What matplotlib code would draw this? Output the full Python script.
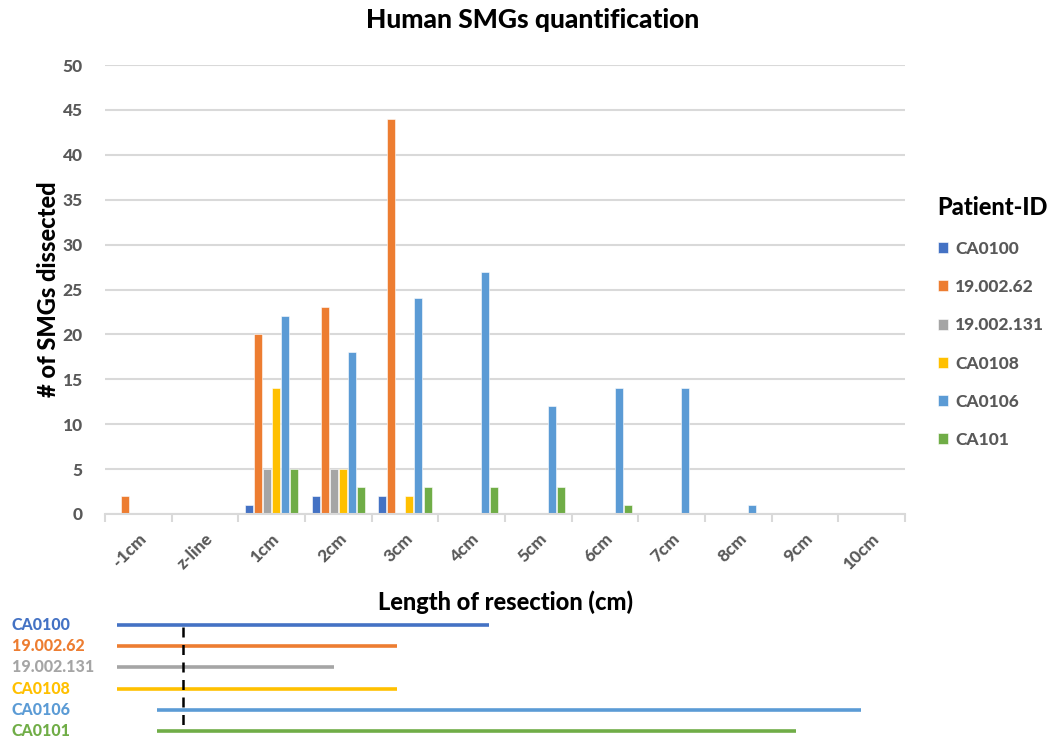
import numpy as np
import matplotlib
matplotlib.use("Agg")
import matplotlib.pyplot as plt
from matplotlib.transforms import blended_transform_factory

plt.rcParams['font.family'] = ['Lato', 'DejaVu Sans']

categories = ['-1cm', 'z-line', '1cm', '2cm', '3cm', '4cm', '5cm', '6cm', '7cm', '8cm', '9cm', '10cm']
patients = ['CA0100', '19.002.62', '19.002.131', 'CA0108', 'CA0106', 'CA101']
colors = ['#4472C4', '#ED7D31', '#A5A5A5', '#FFC000', '#5B9BD5', '#70AD47']

ca0100 = [0, 0, 1, 2, 2, 0, 0, 0, 0, 0, 0, 0]
p19_002_62 = [2, 0, 20, 23, 44, 0, 0, 0, 0, 0, 0, 0]
p19_002_131 = [0, 0, 5, 5, 0, 0, 0, 0, 0, 0, 0, 0]
ca0108 = [0, 0, 14, 5, 2, 0, 0, 0, 0, 0, 0, 0]
ca0106 = [0, 0, 22, 18, 24, 27, 12, 14, 14, 1, 0, 0]
ca101 = [0, 0, 5, 3, 3, 3, 3, 1, 0, 0, 0, 0]
series = [ca0100, p19_002_62, p19_002_131, ca0108, ca0106, ca101]

# resection spans (in category units of the bar chart x axis)
span_labels = ['CA0100', '19.002.62', '19.002.131', 'CA0108', 'CA0106', 'CA0101']
span_start = [-0.32, -0.32, -0.32, -0.32, 0.28, 0.28]
span_end = [5.26, 3.88, 2.94, 3.88, 10.84, 9.86]
zline_pos = 0.67

W, H = 1054, 740
fig = plt.figure(figsize=(W / 100, H / 100), dpi=100)
ax = fig.add_axes([105 / W, 1 - 514 / H, 800 / W, 449 / H])

x = np.arange(len(categories))
step = 0.135
width = 0.12
for i, (vals, name, c) in enumerate(zip(series, patients, colors)):
    ax.bar(x + (i - 2.5) * step, vals, width, color=c, label=name,
           edgecolor='white', linewidth=0.4)

ax.set_xlim(-0.5, len(categories) - 0.5)
ax.set_ylim(0, 50)
ax.set_yticks(range(0, 51, 5))
ax.grid(axis='y', color='#D9D9D9', linewidth=1.5)
ax.set_axisbelow(True)
for s in ['top', 'right', 'left']:
    ax.spines[s].set_visible(False)
ax.spines['bottom'].set_color('#D9D9D9')
ax.spines['bottom'].set_linewidth(1.5)

ax.set_xticks(x)
ax.set_xticklabels(categories, rotation=45, ha='right', rotation_mode='anchor',
                   fontsize=12.5, fontweight='black', color='#595959')
ax.set_xticks(np.arange(-0.5, len(categories)), minor=True)
ax.tick_params(axis='x', which='major', length=0, pad=12)
ax.tick_params(axis='x', which='minor', length=6, width=1.5, color='#D9D9D9')
ax.tick_params(axis='y', length=0, pad=16, labelsize=12.5, labelcolor='#595959')
for t in ax.get_yticklabels():
    t.set_fontweight('black')

ax.set_xlabel('Length of resection (cm)', fontsize=17, fontweight='black', labelpad=13)
ax.set_ylabel('# of SMGs dissected', fontsize=17, fontweight='black', labelpad=2)
fig.text(533 / W, 1 - 20 / H, 'Human SMGs quantification', ha='center', va='center',
         fontsize=19, fontweight='black')

leg = fig.legend(loc='upper left', bbox_to_anchor=(922 / W, 1 - 180 / H), frameon=False,
                 title='Patient-ID', handlelength=0.6, handleheight=0.6,
                 handletextpad=0.4, labelspacing=1.28,
                 prop={'weight': 'black', 'size': 12.5})
leg.get_title().set_fontweight('black')
leg.get_title().set_fontsize(17)
leg._legend_box.align = 'left'
for t in leg.get_texts():
    t.set_color('#595959')

# resection span panel
ax2 = fig.add_axes([105 / W, 0, 800 / W, 125 / H])
ax2.set_xlim(ax.get_xlim())
ax2.set_ylim(5.42, -0.47)
ax2.axis('off')
for i, (lab, a, b, c) in enumerate(zip(span_labels, span_start, span_end, colors)):
    ax2.plot([a, b], [i, i], color=c, linewidth=2.6, solid_capstyle='butt')
ax2.plot([zline_pos, zline_pos], [0.1, 5], color='black', linewidth=1.8,
         linestyle=(0, (4, 3)))
tr = blended_transform_factory(fig.transFigure, ax2.transData)
for i, (lab, c) in enumerate(zip(span_labels, colors)):
    fig.text(12 / W, i, lab, transform=tr, color=c, fontsize=11.5, fontweight='black',
             va='center', ha='left')

fig.savefig('out.png', dpi=100)
